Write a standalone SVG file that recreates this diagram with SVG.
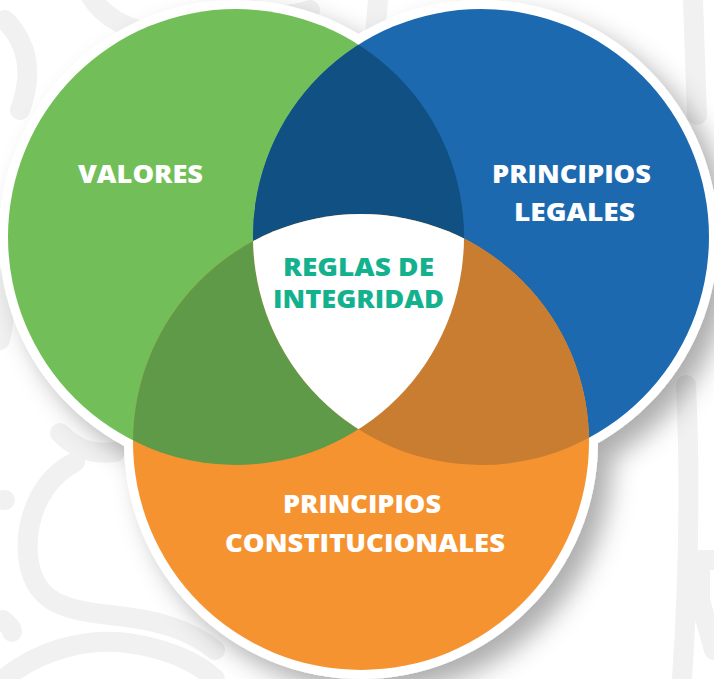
<svg xmlns="http://www.w3.org/2000/svg" width="714" height="679" viewBox="0 0 714 679">
  <defs>
    <style>
      .bg { fill: none; stroke: #f1f1f1; stroke-width: 20; stroke-linecap: round; stroke-linejoin: round; }
      .lbl { font-family: "Open Sans", "Liberation Sans", sans-serif; font-weight: 800; font-size: 25px; text-anchor: middle; }
      .w { fill: #ffffff; }
      .t { fill: #14B18F; }
    </style>
    <clipPath id="clipG"><circle cx="236" cy="237" r="228"/></clipPath>
    <clipPath id="clipB"><circle cx="481" cy="237" r="228"/></clipPath>
    <filter id="shadow" x="-20%" y="-20%" width="140%" height="140%">
      <feDropShadow dx="14" dy="14" stdDeviation="13" flood-color="#000000" flood-opacity="0.32"/>
    </filter>
  </defs>

  <rect width="714" height="679" fill="#ffffff"/>

  <g id="background-pattern">
    <path class="bg" d="M60,433 C75,448 90,455 115,452"/>
    <path class="bg" d="M75,462 C40,480 25,520 28,555 C32,600 60,610 110,615 C160,620 190,630 215,650"/>
    <path class="bg" d="M5,678 C40,650 90,635 140,645 C175,652 200,665 215,679"/>
    <path class="bg" d="M3,500 L5,500"/>
    <path class="bg" d="M3,620 C8,625 12,628 12,632"/>
    <path class="bg" d="M686,385 C690,470 690,560 682,679"/>
    <path class="bg" d="M714,560 L700,560 L700,600 L714,650"/>
    <path class="bg" d="M378,0 L375,35"/>
    <path class="bg" d="M693,0 L697,115"/>
    <path class="bg" d="M5,20 C25,40 35,70 20,110"/>
    <path class="bg" d="M90,-5 C105,20 130,30 160,35"/>
    <path class="bg" d="M230,-5 C250,15 280,20 310,10"/>
    <path class="bg" d="M0,280 C5,300 5,320 0,340"/>
  </g>

  <g id="outline" filter="url(#shadow)">
    <circle cx="236" cy="237" r="237" fill="#ffffff"/>
    <circle cx="481" cy="237" r="237" fill="#ffffff"/>
    <circle cx="361" cy="442" r="237" fill="#ffffff"/>
  </g>

  <g id="valores">
    <circle cx="236" cy="237" r="228" fill="#72BF59"/>
  </g>
  <g id="principios-legales">
    <circle cx="481" cy="237" r="228" fill="#1C69AF"/>
  </g>
  <g id="principios-constitucionales">
    <circle cx="361" cy="442" r="228" fill="#F69331"/>
  </g>

  <g id="overlaps">
    <g clip-path="url(#clipG)">
      <circle cx="481" cy="237" r="228" fill="#105083"/>
      <circle cx="361" cy="442" r="228" fill="#5F9A48"/>
    </g>
    <g clip-path="url(#clipB)">
      <circle cx="361" cy="442" r="228" fill="#C97D30"/>
    </g>
  </g>

  <g id="reglas-de-integridad">
    <g clip-path="url(#clipG)">
      <g clip-path="url(#clipB)">
        <circle cx="361" cy="442" r="228" fill="#ffffff"/>
      </g>
    </g>
    <text class="lbl t" x="358.5" y="276" textLength="151" lengthAdjust="spacingAndGlyphs">REGLAS DE</text>
    <text class="lbl t" x="358.5" y="308" textLength="171" lengthAdjust="spacingAndGlyphs">INTEGRIDAD</text>
  </g>

  <g id="labels">
    <text class="lbl w" x="140.5" y="183" textLength="125" lengthAdjust="spacingAndGlyphs">VALORES</text>
    <text class="lbl w" x="571.5" y="183" textLength="159" lengthAdjust="spacingAndGlyphs">PRINCIPIOS</text>
    <text class="lbl w" x="574.5" y="221" textLength="121" lengthAdjust="spacingAndGlyphs">LEGALES</text>
    <text class="lbl w" x="362" y="513" textLength="158" lengthAdjust="spacingAndGlyphs">PRINCIPIOS</text>
    <text class="lbl w" x="365" y="552" textLength="280" lengthAdjust="spacingAndGlyphs">CONSTITUCIONALES</text>
  </g>
</svg>
